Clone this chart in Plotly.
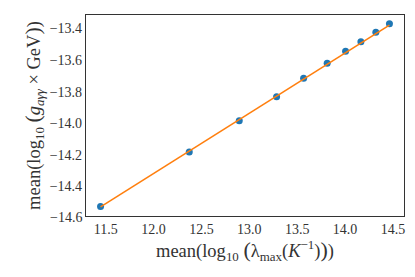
import plotly.graph_objects as go

# data
x_vals = [11.447, 12.373, 12.895, 13.285, 13.567, 13.813, 14.005, 14.165, 14.321, 14.463]
y_vals = [-14.528, -14.182, -13.984, -13.832, -13.715, -13.620, -13.544, -13.484, -13.424, -13.370]
line_y = [-14.530, -14.177, -13.978, -13.829, -13.721, -13.627, -13.553, -13.492, -13.432, -13.378]

x_ticks = [11.5, 12.0, 12.5, 13.0, 13.5, 14.0, 14.5]
x_tick_text = ["11.5", "12.0", "12.5", "13.0", "13.5", "14.0", "14.5"]
y_ticks = [-14.4, -14.2, -14.0, -13.8, -13.6, -13.4]
y_tick_text = ["\u221214.4", "\u221214.2", "\u221214.0", "\u221213.8", "\u221213.6", "\u221213.4"]
y_bottom_tick = -14.6
y_bottom_text = "\u221214.6"

X_RANGE = [11.295, 14.615]
Y_RANGE = [-14.588, -13.314]

FONT = "Liberation Serif"
TICK_SIZE = 14
TITLE_SIZE = 18.5
COLOR = "#333333"

BIG_L = "<span style='font-size:22px'>(</span>"
BIG_R = "<span style='font-size:22px'>)</span>"
x_title = ("mean(log<sub>10</sub> " + BIG_L + "\u03bb<sub>max</sub>(<i>K</i><sup>\u22121</sup>)"
           + BIG_R + ")")
y_title = ("mean(log<sub>10</sub> " + BIG_L + "<i>g</i><sub><i>a\u03b3\u03b3</i></sub> \u00d7 GeV"
           + BIG_R + ")")

fig = go.Figure()
fig.add_trace(go.Scatter(x=x_vals, y=y_vals, mode="markers",
                         marker=dict(color="#1f77b4", size=7), showlegend=False))
fig.add_trace(go.Scatter(x=x_vals, y=line_y, mode="lines",
                         line=dict(color="#ff7f0e", width=1.6), showlegend=False))

# the lowest tick label sits just below the axis range, as in the reference
fig.add_annotation(x=0, xref="paper", xanchor="right", xshift=-2,
                   y=(y_bottom_tick - Y_RANGE[0]) / (Y_RANGE[1] - Y_RANGE[0]),
                   yref="paper", yanchor="middle",
                   text=y_bottom_text, showarrow=False,
                   font=dict(family=FONT, size=TICK_SIZE, color=COLOR))

fig.update_layout(
    width=415, height=277,
    margin=dict(l=86, r=11, t=15, b=61),
    paper_bgcolor="white", plot_bgcolor="white",
    font=dict(family=FONT, color=COLOR, size=TICK_SIZE),
    xaxis=dict(range=X_RANGE, tickvals=x_ticks, ticktext=x_tick_text,
               showgrid=False, zeroline=False, showline=True, mirror=True,
               linecolor="#333333", linewidth=1.3, ticks="",
               tickfont=dict(size=TICK_SIZE, family=FONT, color=COLOR),
               title=dict(text=x_title,
                          font=dict(size=TITLE_SIZE, family=FONT, color=COLOR), standoff=7)),
    yaxis=dict(range=Y_RANGE, tickvals=y_ticks, ticktext=y_tick_text,
               showgrid=False, zeroline=False, showline=True, mirror=True,
               linecolor="#333333", linewidth=1.3, ticks="",
               tickfont=dict(size=TICK_SIZE, family=FONT, color=COLOR),
               title=dict(text=y_title,
                          font=dict(size=TITLE_SIZE, family=FONT, color=COLOR), standoff=4)),
)

fig.write_html("out.html", config={"displayModeBar": False},
               post_script="document.body.style.margin='0';")
